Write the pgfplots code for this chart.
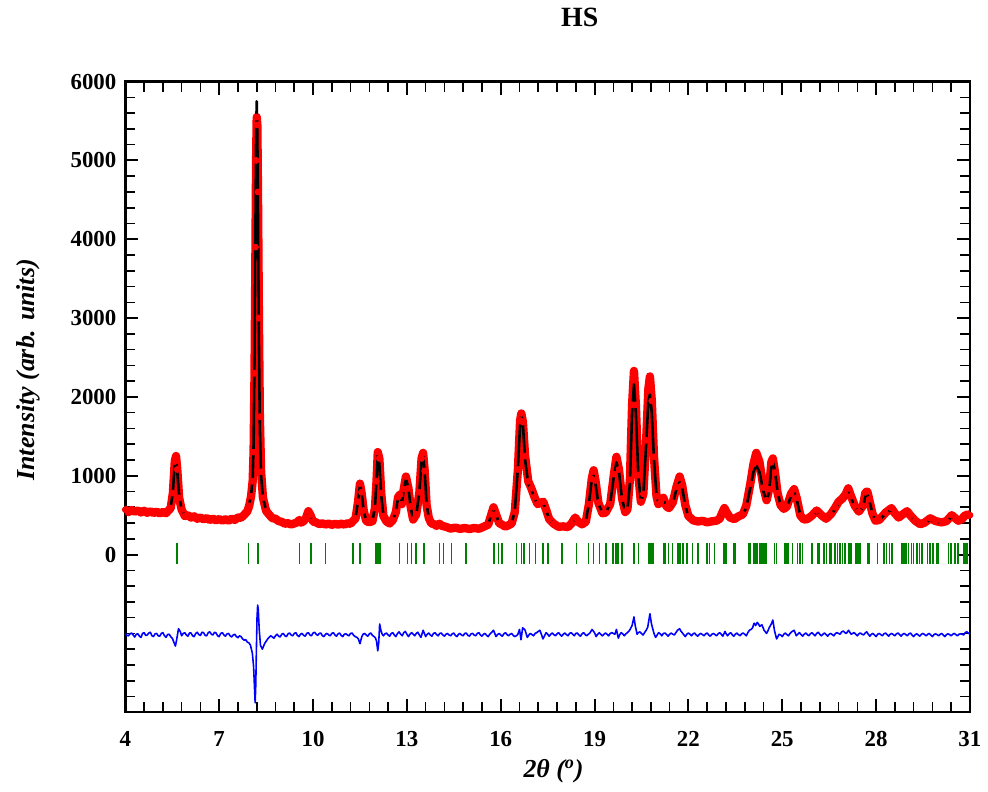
\documentclass[border=0pt]{standalone}
\usepackage{fontspec}
\setmainfont{Liberation Serif}
\usepackage{pgfplots}
\usepackage{pgfplotstable}
\pgfplotsset{compat=1.18}

\definecolor{obsred}{RGB}{255,0,0}
\definecolor{braggreen}{RGB}{0,128,0}
\definecolor{diffblue}{RGB}{0,0,255}

% x  calc  obs
\pgfplotstableread{
x calc obs
4.00 555 570
4.10 552 540
4.20 550 565
4.30 549 545
4.40 548 560
4.50 546 535
4.60 545 555
4.70 543 530
4.80 540 550
4.90 538 528
5.00 535 545
5.10 532 522
5.20 530 540
5.30 532 525
5.38 550 560
5.45 600 590
5.52 800 780
5.58 1150 1180
5.62 1200 1250
5.66 1050 1080
5.72 750 720
5.80 560 570
5.90 500 490
6.00 485 500
6.10 478 470
6.20 472 485
6.30 466 455
6.40 460 470
6.50 457 448
6.60 455 462
6.70 450 440
6.80 446 455
6.90 443 435
7.00 440 450
7.10 439 432
7.20 440 448
7.30 441 430
7.40 445 455
7.50 450 440
7.60 460 470
7.70 475 468
7.80 500 505
7.90 560 550
7.96 640 620
8.02 760 740
8.07 960 930
8.10 1400 1300
8.13 2500 2300
8.16 4200 3900
8.18 5300 5000
8.20 5750 5550
8.22 5300 5450
8.24 4300 4600
8.27 2700 3000
8.30 1600 1750
8.34 1000 1050
8.40 720 720
8.50 560 555
8.60 500 505
8.70 470 462
8.80 450 455
8.90 430 425
9.00 410 415
9.10 400 392
9.20 392 398
9.30 388 382
9.40 388 395
9.50 405 410
9.56 430 440
9.62 412 405
9.70 418 425
9.78 480 470
9.85 540 550
9.92 490 500
10.00 425 420
10.10 400 408
10.20 395 388
10.30 390 396
10.40 388 382
10.50 386 392
10.60 385 378
10.70 385 390
10.80 385 380
10.90 386 392
11.00 387 382
11.10 390 396
11.20 398 392
11.28 420 428
11.36 470 460
11.44 680 670
11.50 880 900
11.55 800 790
11.62 550 560
11.70 430 425
11.80 402 410
11.90 430 425
11.98 600 590
12.03 950 930
12.07 1280 1300
12.12 1150 1220
12.18 750 780
12.25 500 490
12.35 412 420
12.45 402 395
12.55 430 438
12.65 550 540
12.72 720 730
12.78 740 760
12.84 650 640
12.90 820 830
12.97 960 990
13.05 850 840
13.12 600 610
13.20 450 445
13.30 500 510
13.40 800 790
13.47 1200 1220
13.52 1260 1290
13.57 1050 1060
13.63 650 630
13.70 460 465
13.78 400 395
13.86 380 388
13.95 370 365
14.04 385 392
14.12 370 365
14.25 345 352
14.40 338 330
14.55 335 342
14.70 332 326
14.85 330 338
15.00 330 324
15.15 331 338
15.30 333 328
15.45 345 352
15.60 385 380
15.70 500 510
15.77 570 600
15.85 500 510
15.95 405 400
16.05 372 378
16.15 362 355
16.25 365 372
16.35 400 395
16.45 550 540
16.55 1100 1080
16.62 1650 1700
16.66 1780 1790
16.71 1650 1680
16.78 1200 1250
16.88 900 930
16.98 820 840
17.08 720 730
17.18 630 640
17.28 640 660
17.36 650 670
17.45 560 570
17.55 455 450
17.70 382 390
17.85 358 352
18.00 352 358
18.15 355 348
18.27 390 398
18.38 460 470
18.48 420 415
18.60 378 384
18.72 420 415
18.82 650 640
18.91 950 960
18.97 1000 1070
19.03 900 940
19.12 650 660
19.25 530 525
19.35 520 530
19.50 650 640
19.62 1000 1020
19.70 1170 1240
19.78 1050 1080
19.88 700 710
19.98 545 540
20.05 560 570
20.13 900 950
20.20 1800 1900
20.26 2160 2330
20.32 1800 1900
20.40 1000 1010
20.48 680 670
20.56 760 770
20.65 1400 1450
20.72 1950 2100
20.77 2030 2260
20.83 1800 1950
20.90 1200 1240
20.98 750 740
21.04 650 640
21.12 660 670
21.20 700 720
21.30 600 610
21.38 580 590
21.50 650 660
21.62 830 860
21.72 920 990
21.80 850 880
21.90 620 630
22.00 480 490
22.15 440 435
22.30 428 420
22.45 420 428
22.60 416 410
22.75 415 422
22.90 425 430
23.00 460 455
23.08 520 530
23.15 570 590
23.23 520 530
23.33 465 470
23.47 455 450
23.60 478 485
23.74 500 510
23.85 600 620
23.98 850 900
24.08 1050 1150
24.17 1130 1290
24.27 1050 1180
24.40 800 850
24.50 670 690
24.58 800 830
24.65 1100 1170
24.70 1200 1220
24.77 1050 1040
24.85 800 780
24.95 620 625
25.05 570 580
25.15 600 610
25.28 740 770
25.38 790 830
25.46 700 720
25.58 500 495
25.69 440 445
25.80 460 450
25.95 490 495
26.10 540 560
26.25 490 500
26.40 460 455
26.55 500 510
26.70 580 600
26.80 650 670
26.92 690 710
27.02 730 760
27.11 790 840
27.20 720 740
27.32 610 620
27.45 540 545
27.58 600 620
27.66 740 790
27.72 770 800
27.78 690 700
27.88 530 525
27.98 425 430
28.10 432 440
28.30 520 530
28.49 570 590
28.60 520 525
28.72 460 470
28.85 500 510
28.99 540 550
29.10 490 495
29.25 420 430
29.41 378 385
29.55 400 405
29.73 440 460
29.90 420 425
30.10 400 408
30.25 420 425
30.42 480 500
30.55 450 455
30.63 420 430
30.75 440 450
30.82 470 490
30.93 500 510
31.00 490 500
}\profile

\pgfplotstableread{
x d
4.0 -1000
4.05 -1025
4.1 -1030
4.15 -1005
4.2 -995
4.25 -1020
4.3 -1045
4.35 -1010
4.4 -1005
4.45 -1035
4.5 -1050
4.55 -1000
4.6 -990
4.65 -1025
4.7 -1020
4.75 -995
4.8 -985
4.85 -1030
4.9 -1040
4.95 -1005
5.0 -1000
5.05 -1030
5.1 -1035
5.15 -1000
5.2 -990
5.25 -1030
5.3 -1050
5.35 -1015
5.4 -1010
5.45 -1040
5.5 -1060
5.56 -1120
5.6 -1160
5.64 -1080
5.7 -940
5.76 -980
5.8 -1030
5.85 -1000
5.9 -990
5.95 -1020
6.0 -1035
6.05 -995
6.1 -995
6.15 -1030
6.2 -1040
6.25 -1000
6.3 -985
6.35 -1015
6.4 -1025
6.45 -985
6.5 -990
6.55 -1025
6.6 -1030
6.65 -990
6.7 -980
6.75 -1010
6.8 -1020
6.85 -985
6.9 -995
6.95 -1030
7.0 -1040
7.05 -1000
7.1 -990
7.15 -1020
7.2 -1035
7.25 -1005
7.3 -1000
7.35 -1030
7.4 -1045
7.45 -1020
7.5 -1010
7.55 -1040
7.6 -1055
7.65 -1030
7.7 -1040
7.75 -1070
7.8 -1085
7.85 -1080
7.9 -1110
7.95 -1120
8.0 -1150
8.06 -1250
8.1 -1420
8.13 -1700
8.15 -1880
8.17 -1650
8.19 -1200
8.21 -800
8.23 -640
8.25 -700
8.28 -950
8.32 -1150
8.38 -1200
8.45 -1130
8.5 -1100
8.55 -1070
8.6 -1050
8.65 -1030
8.7 -1045
8.75 -1060
8.8 -1030
8.85 -1010
8.9 -1035
8.95 -1045
9.0 -1010
9.05 -1000
9.1 -1030
9.15 -1040
9.2 -1005
9.25 -995
9.3 -1020
9.35 -1030
9.4 -1000
9.45 -990
9.5 -1025
9.55 -1040
9.6 -1010
9.65 -1000
9.7 -1025
9.75 -1035
9.8 -1000
9.85 -990
9.9 -1020
9.95 -1030
10.0 -995
10.05 -985
10.1 -1010
10.15 -1025
10.2 -1000
10.25 -995
10.3 -1030
10.35 -1040
10.4 -1010
10.45 -1000
10.5 -1020
10.55 -1030
10.6 -1000
10.65 -990
10.7 -1020
10.75 -1035
10.8 -1005
10.85 -995
10.9 -1025
10.95 -1040
11.0 -1010
11.05 -1005
11.1 -1020
11.15 -1030
11.2 -1000
11.25 -995
11.3 -1025
11.35 -1040
11.4 -1050
11.45 -1070
11.5 -1130
11.56 -1040
11.6 -1010
11.65 -1000
11.7 -1020
11.75 -1035
11.8 -1005
11.85 -995
11.9 -1025
11.95 -1040
12.0 -1060
12.03 -1100
12.07 -1220
12.1 -1120
12.13 -880
12.17 -960
12.21 -1010
12.25 -1030
12.3 -1005
12.35 -995
12.4 -1020
12.45 -1035
12.5 -1000
12.55 -990
12.6 -1020
12.65 -1040
12.7 -1000
12.75 -980
12.8 -1010
12.85 -1030
12.9 -990
12.95 -975
13.0 -1010
13.05 -1040
13.1 -1010
13.15 -990
13.2 -1010
13.25 -1030
13.3 -1000
13.35 -985
13.4 -1020
13.45 -1050
13.52 -960
13.56 -1000
13.6 -1040
13.65 -1010
13.7 -995
13.75 -1020
13.8 -1035
13.85 -1000
13.9 -990
13.95 -1015
14.0 -1030
14.05 -1000
14.1 -995
14.15 -1020
14.2 -1035
14.25 -1010
14.3 -1000
14.35 -1020
14.4 -1030
14.45 -1005
14.5 -995
14.55 -1025
14.6 -1040
14.65 -1010
14.7 -1000
14.75 -1020
14.8 -1030
14.85 -1000
14.9 -995
14.95 -1025
15.0 -1035
15.05 -1005
15.1 -1000
15.15 -1020
15.2 -1030
15.25 -1000
15.3 -990
15.35 -1020
15.4 -1035
15.45 -1010
15.5 -1000
15.55 -1025
15.6 -1040
15.65 -1010
15.7 -990
15.77 -960
15.85 -1040
15.9 -1015
15.95 -1000
16.0 -1020
16.05 -1035
16.1 -1005
16.15 -990
16.2 -1015
16.25 -1030
16.3 -1010
16.35 -1000
16.4 -1025
16.45 -1040
16.5 -1030
16.55 -1010
16.6 -950
16.65 -1080
16.7 -930
16.74 -940
16.78 -960
16.85 -1050
16.9 -1020
16.95 -1000
17.0 -1015
17.05 -1030
17.1 -1000
17.15 -990
17.2 -975
17.25 -960
17.3 -1010
17.35 -1070
17.4 -1030
17.45 -990
17.5 -1010
17.55 -1035
17.6 -1010
17.65 -995
17.7 -1015
17.75 -1030
17.8 -1005
17.85 -990
17.9 -1015
17.95 -1035
18.0 -1010
18.05 -995
18.1 -1015
18.15 -1030
18.2 -1000
18.25 -990
18.3 -1010
18.35 -1030
18.4 -1000
18.45 -995
18.5 -1020
18.55 -1035
18.6 -1005
18.65 -990
18.7 -1015
18.75 -1030
18.8 -1010
18.85 -995
18.92 -950
18.98 -980
19.02 -1010
19.05 -1040
19.1 -1010
19.15 -990
19.2 -1010
19.25 -1030
19.3 -1010
19.35 -995
19.4 -1010
19.45 -1030
19.5 -1000
19.55 -990
19.6 -1000
19.65 -1010
19.7 -950
19.76 -1060
19.8 -1020
19.85 -990
19.9 -1005
19.95 -1030
20.0 -1005
20.05 -990
20.12 -960
20.2 -900
20.26 -790
20.3 -900
20.36 -1010
20.4 -990
20.45 -980
20.5 -1000
20.55 -1020
20.6 -990
20.65 -960
20.7 -920
20.77 -750
20.82 -880
20.86 -940
20.9 -1000
20.95 -1050
21.0 -1020
21.05 -990
21.1 -1005
21.15 -1030
21.2 -1000
21.25 -995
21.3 -1015
21.35 -1035
21.4 -1010
21.45 -995
21.5 -1010
21.55 -1020
21.6 -990
21.65 -960
21.72 -940
21.76 -970
21.8 -990
21.85 -1015
21.9 -1040
21.95 -1010
22.0 -995
22.05 -1010
22.1 -1030
22.15 -1005
22.2 -995
22.25 -1020
22.3 -1035
22.35 -1010
22.4 -1000
22.45 -1015
22.5 -1030
22.55 -1005
22.6 -995
22.65 -1020
22.7 -1035
22.75 -1010
22.8 -1000
22.85 -1015
22.9 -1030
22.95 -1005
23.0 -990
23.05 -1010
23.1 -1035
23.17 -975
23.2 -1000
23.25 -1030
23.3 -1005
23.35 -990
23.4 -1015
23.45 -1035
23.5 -1010
23.55 -995
23.6 -1015
23.65 -1030
23.7 -1005
23.75 -995
23.8 -1010
23.85 -1030
23.9 -990
23.95 -960
24.0 -950
24.05 -930
24.1 -870
24.15 -900
24.2 -860
24.24 -880
24.28 -910
24.35 -890
24.42 -960
24.5 -1000
24.54 -970
24.58 -930
24.65 -880
24.7 -830
24.75 -960
24.82 -1070
24.86 -1040
24.9 -1010
24.95 -1020
25.0 -1040
25.05 -1010
25.1 -995
25.15 -1015
25.2 -1030
25.25 -1000
25.3 -980
25.38 -960
25.45 -1030
25.5 -1010
25.55 -990
25.6 -1015
25.65 -1035
25.7 -1010
25.75 -995
25.8 -1015
25.85 -1030
25.9 -1005
25.95 -990
26.0 -1010
26.05 -1030
26.1 -1000
26.15 -985
26.2 -1010
26.25 -1030
26.3 -1010
26.35 -995
26.4 -1015
26.45 -1035
26.5 -1010
26.55 -1000
26.6 -1015
26.65 -1030
26.7 -1000
26.75 -990
26.8 -1000
26.85 -1010
26.9 -980
26.95 -970
27.0 -990
27.05 -1000
27.12 -960
27.16 -985
27.2 -1010
27.25 -1000
27.3 -990
27.35 -1010
27.4 -1030
27.45 -1005
27.5 -995
27.55 -1010
27.6 -1020
27.65 -995
27.7 -980
27.75 -1010
27.8 -1035
27.85 -1010
27.9 -1000
27.95 -1020
28.0 -1040
28.05 -1010
28.1 -1000
28.15 -1015
28.2 -1030
28.25 -1005
28.3 -995
28.35 -1015
28.4 -1035
28.45 -1010
28.5 -1000
28.55 -1015
28.6 -1030
28.65 -1005
28.7 -995
28.75 -1015
28.8 -1035
28.85 -1010
28.9 -1000
28.95 -1015
29.0 -1030
29.05 -1005
29.1 -995
29.15 -1020
29.2 -1040
29.25 -1015
29.3 -1005
29.35 -1020
29.4 -1035
29.45 -1010
29.5 -1000
29.55 -1015
29.6 -1030
29.65 -1010
29.7 -1000
29.75 -1020
29.8 -1040
29.85 -1015
29.9 -1005
29.95 -1015
30.0 -1030
30.05 -1010
30.1 -1000
30.15 -1020
30.2 -1040
30.25 -1015
30.3 -1005
30.35 -1015
30.4 -1030
30.45 -1010
30.5 -1000
30.55 -1015
30.6 -1030
30.65 -1010
30.7 -1005
30.75 -1010
30.8 -1020
30.85 -990
30.9 -980
30.95 -995
31.0 -1010
}\difference

\pgfplotstableread{
x y
5.66 15
7.94 15
8.24 15
9.57 15
9.94 15
10.40 15
11.28 15
11.51 15
12.02 15
12.07 15
12.14 15
12.77 15
13.02 15
13.15 15
13.29 15
13.54 15
13.56 15
14.04 15
14.17 15
14.43 15
14.89 15
15.79 15
15.93 15
16.05 15
16.50 15
16.66 15
16.74 15
16.92 15
17.11 15
17.36 15
17.51 15
17.96 15
18.42 15
18.81 15
18.97 15
19.16 15
19.36 15
19.59 15
19.68 15
19.74 15
19.87 15
20.26 15
20.40 15
20.72 15
20.77 15
20.83 15
20.88 15
21.20 15
21.25 15
21.36 15
21.49 15
21.67 15
21.73 15
21.83 15
21.96 15
22.13 15
22.31 15
22.60 15
22.68 15
22.84 15
23.14 15
23.19 15
23.22 15
23.46 15
23.51 15
23.93 15
23.97 15
24.09 15
24.14 15
24.20 15
24.27 15
24.32 15
24.38 15
24.45 15
24.50 15
24.75 15
24.82 15
25.08 15
25.14 15
25.19 15
25.33 15
25.49 15
25.56 15
25.65 15
25.95 15
26.13 15
26.18 15
26.34 15
26.41 15
26.52 15
26.58 15
26.69 15
26.76 15
26.84 15
26.92 15
27.01 15
27.13 15
27.19 15
27.35 15
27.42 15
27.48 15
27.72 15
27.77 15
28.04 15
28.25 15
28.33 15
28.43 15
28.51 15
28.83 15
28.90 15
28.96 15
29.04 15
29.13 15
29.20 15
29.31 15
29.39 15
29.47 15
29.65 15
29.73 15
29.81 15
29.94 15
30.00 15
30.32 15
30.40 15
30.53 15
30.61 15
30.79 15
30.85 15
30.90 15
}\bragg

\begin{document}
\begin{tikzpicture}
\begin{axis}[
    scale only axis,
    width=424.5pt, height=317pt,
    xmin=4, xmax=31, ymin=-2000, ymax=6000,
    xtick={4,7,...,31},
    minor xtick={4,4.6,...,31},
    ytick={0,1000,...,6000},
    minor ytick={-2000,-1800,...,6000},
    tick align=inside,
    xtick pos=both, ytick pos=both,
    major tick length=6.5pt, minor tick length=5pt,
    every tick/.style={black, line width=1pt},
    every minor tick/.style={black, line width=0.8pt},
    axis line style={line width=1.2pt},
    tick label style={font=\bfseries\fontsize{11.5}{12}\selectfont},
    /pgf/number format/assume math mode=true,
    /pgf/number format/1000 sep={},
    scaled ticks=false,
    xticklabel style={yshift=-6pt},
    yticklabel style={xshift=-1pt},
    title={HS},
    title style={font=\bfseries\fontsize{14}{15}\selectfont, at={(rel axis cs:0.538,1)}, anchor=center, yshift=26pt},
    xlabel={2θ (\textsuperscript{o})},
    xlabel style={font=\bfseries\itshape\fontsize{13}{14}\selectfont, at={(rel axis cs:0.507,0)}, anchor=center, yshift=-29.5pt},
    ylabel={Intensity (arb. units)},
    ylabel style={font=\bfseries\itshape\fontsize{13}{14}\selectfont, at={(rel axis cs:-0.1154,0.543)}, anchor=center},
]
\addplot[obsred, line width=4.2pt, line join=round, line cap=round, mark=*, mark size=1.5pt, mark options={solid, obsred, line width=0.4pt}] table[x=x, y=obs] {\profile};
\addplot[black, line width=1.3pt, line join=round] table[x=x, y=calc] {\profile};
\addplot[diffblue, line width=0.8pt, line join=round] table[x=x, y=d] {\difference};
\addplot[braggreen, only marks, mark=|, mark size=5.25pt, mark options={line width=0.8pt}] table[x=x, y=y] {\bragg};
\end{axis}
\path ([xshift=-63pt, yshift=-40pt]current axis.south west) rectangle ([xshift=6.5pt, yshift=41pt]current axis.north east);
\end{tikzpicture}
\end{document}
